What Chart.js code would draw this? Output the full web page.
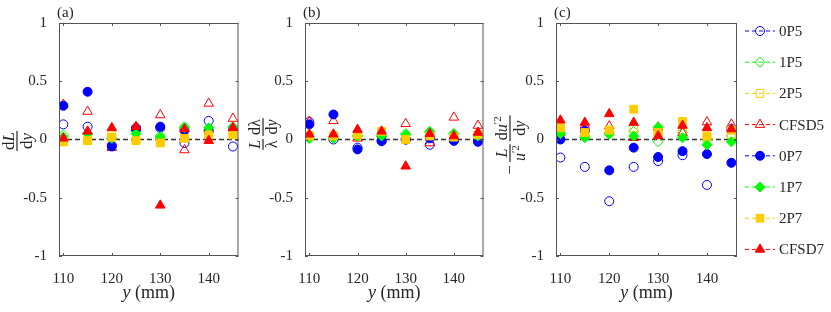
<!DOCTYPE html>
<html>
<head>
<meta charset="utf-8">
<script src="https://cdn.jsdelivr.net/npm/chart.js@4"></script>
<style>
  body { margin: 0; background: #fff; }
  #wrap { position: relative; width: 831px; height: 312px; }
  canvas { position: absolute; top: 0; }
</style>
</head>
<body>
<div id="wrap">
  <canvas id="ca" width="245" height="312" style="left:0px"></canvas>
  <canvas id="cb" width="245" height="312" style="left:245px"></canvas>
  <canvas id="cc" width="341" height="312" style="left:490px"></canvas>
</div>
<script>
// wall-normal positions (mm) and tick labels
const yPos = [110, 115, 120, 125, 130, 135, 140, 145];
const xTicks = [110, 120, 130, 140];
const yTicks = [-1, -0.5, 0, 0.5, 1];
const names = ['0P5', '1P5', '2P5', 'CFSD5', '0P7', '1P7', '2P7', 'CFSD7'];

// (a) dL/dy
const a0P5   = [0.13, 0.11, -0.05, 0.10, 0.10, -0.03, 0.16, -0.06];
const a1P5   = [0.04, 0.05, 0.01, 0.07, 0.03, 0.11, 0.08, 0.11];
const a2P5   = [-0.02, -0.01, 0.04, -0.01, -0.02, 0.02, 0.05, 0.05];
const aCFSD5 = [0.30, 0.24, -0.07, 0.10, 0.21, -0.09, 0.31, 0.18];
const a0P7   = [0.29, 0.41, -0.06, 0.09, 0.11, 0.08, 0.07, 0.09];
const a1P7   = [0.02, 0.05, 0.01, 0.05, 0.02, 0.10, 0.10, 0.10];
const a2P7   = [-0.02, -0.01, 0.02, -0.01, -0.03, 0.01, 0.04, 0.04];
const aCFSD7 = [0.01, 0.07, 0.10, 0.11, -0.565, 0.09, -0.01, 0.10];

// (b) (L/lambda) dlambda/dy
const b0P5   = [0.15, 0.00, -0.07, -0.015, 0.00, -0.045, -0.01, -0.01];
const b1P5   = [0.01, 0.01, 0.03, 0.03, 0.05, 0.06, 0.05, 0.03];
const b2P5   = [0.03, 0.03, 0.04, 0.06, 0.00, 0.03, 0.02, 0.04];
const bCFSD5 = [0.155, 0.16, 0.01, 0.045, 0.135, -0.03, 0.19, 0.12];
const b0P7   = [0.13, 0.215, -0.085, -0.01, 0.00, 0.01, -0.01, -0.02];
const b1P7   = [0.01, 0.01, 0.03, 0.03, 0.04, 0.07, 0.05, 0.03];
const b2P7   = [0.03, 0.03, 0.04, 0.07, 0.00, 0.03, 0.02, 0.04];
const bCFSD7 = [0.045, 0.045, 0.085, 0.07, -0.23, 0.05, 0.03, 0.06];

// (c) -(L/u'^2) du'^2/dy
const c0P5   = [-0.155, -0.235, -0.53, -0.235, -0.185, -0.135, -0.39, 0.09];
const c1P5   = [0.06, 0.03, 0.06, 0.07, -0.02, 0.06, 0.00, 0.03];
const c2P5   = [0.09, 0.06, 0.08, 0.10, 0.06, 0.07, 0.02, 0.04];
const cCFSD5 = [0.06, 0.12, 0.115, 0.015, 0.105, 0.055, 0.15, 0.13];
const c0P7   = [0.00, 0.075, -0.265, -0.07, -0.15, -0.10, -0.125, -0.20];
const c1P7   = [0.05, 0.015, 0.045, 0.03, 0.105, 0.015, -0.045, -0.02];
const c2P7   = [0.10, 0.06, 0.08, 0.26, 0.06, 0.155, 0.03, 0.08];
const cCFSD7 = [0.165, 0.145, 0.22, 0.145, 0.03, 0.12, 0.10, 0.09];

const panelA = [a0P5, a1P5, a2P5, aCFSD5, a0P7, a1P7, a2P7, aCFSD7];
const panelB = [b0P5, b1P5, b2P5, bCFSD5, b0P7, b1P7, b2P7, bCFSD7];
const panelC = [c0P5, c1P5, c2P5, cCFSD5, c0P7, c1P7, c2P7, cCFSD7];

// marker styles, MATLAB-like
const BLUE = '#0000ff', GREEN = '#00ff00', YELLOW = '#ffcc00', RED = '#ff0000';
const styles = [
  { c: BLUE,   shape: 'circle',   fill: false, r: 4.5 },
  { c: GREEN,  shape: 'rectRot',  fill: false, r: 5 },
  { c: YELLOW, shape: 'rect',     fill: false, r: 5.5 },
  { c: RED,    shape: 'triangle', fill: false, r: 5.5 },
  { c: BLUE,   shape: 'circle',   fill: true,  r: 4.5 },
  { c: GREEN,  shape: 'rectRot',  fill: true,  r: 5 },
  { c: YELLOW, shape: 'rect',     fill: true,  r: 5.5 },
  { c: RED,    shape: 'triangle', fill: true,  r: 5.5 }
];

const SERIF = '"Liberation Serif", "DejaVu Serif", serif';
const AXIS = '#262626';
const font = (size, it) => (it ? 'italic ' : '') + size + 'px ' + SERIF;

function runsWidth(ctx, runs) {
  let w = 0;
  for (const r of runs) { ctx.font = r.font; w += ctx.measureText(r.t).width; }
  return w;
}
function drawRuns(ctx, runs, x, y) {
  for (const r of runs) {
    ctx.font = r.font;
    ctx.fillText(r.t, x, y + (r.dy || 0));
    x += ctx.measureText(r.t).width;
  }
}
function itemWidth(ctx, it) {
  if (it.runs) return runsWidth(ctx, it.runs);
  return Math.max(runsWidth(ctx, it.num), runsWidth(ctx, it.den)) + 2;
}
// rotated math title: items laid along the rotated baseline, bar at screen x = bx
function drawRotTitle(ctx, bx, cy, items, gap, denBase) {
  ctx.save();
  ctx.translate(bx, cy);
  ctx.rotate(-Math.PI / 2);
  ctx.fillStyle = AXIS;
  ctx.textAlign = 'left';
  ctx.textBaseline = 'alphabetic';
  const ws = items.map(it => itemWidth(ctx, it));
  let x = -(ws.reduce((s, w) => s + w, 0) + gap * (items.length - 1)) / 2;
  items.forEach((it, i) => {
    const w = ws[i];
    if (it.runs) {
      drawRuns(ctx, it.runs, x, it.base || 0);
    } else {
      const wn = runsWidth(ctx, it.num), wd = runsWidth(ctx, it.den);
      drawRuns(ctx, it.num, x + (w - wn) / 2, -3);
      drawRuns(ctx, it.den, x + (w - wd) / 2, denBase);
      ctx.fillRect(x, -0.6, w, 1.2);
    }
    x += w + gap;
  });
  ctx.restore();
}

function drawMarker(ctx, s, x, y) {
  ctx.beginPath();
  const r = s.r;
  if (s.shape === 'circle') {
    ctx.arc(x, y, r, 0, Math.PI * 2);
  } else if (s.shape === 'rectRot') {
    ctx.moveTo(x, y - r); ctx.lineTo(x + r, y); ctx.lineTo(x, y + r); ctx.lineTo(x - r, y);
  } else if (s.shape === 'rect') {
    const h = r * Math.SQRT1_2;
    ctx.rect(x - h, y - h, 2 * h, 2 * h);
  } else {
    ctx.moveTo(x, y - r);
    ctx.lineTo(x + r * Math.sin(Math.PI * 2 / 3), y - r * Math.cos(Math.PI * 2 / 3));
    ctx.lineTo(x - r * Math.sin(Math.PI * 2 / 3), y - r * Math.cos(Math.PI * 2 / 3));
  }
  ctx.closePath();
  if (s.fill) { ctx.fillStyle = s.c; ctx.fill(); }
  ctx.strokeStyle = s.c;
  ctx.lineWidth = 1;
  ctx.stroke();
}

const titles = {
  a: ctx => drawRotTitle(ctx, 17, 141, [
    { num: [{ t: 'd', font: font(17) }, { t: 'L', font: font(17, true) }],
      den: [{ t: 'd', font: font(17) }, { t: 'y', font: font(17, true) }] }
  ], 0, 15),
  b: ctx => drawRotTitle(ctx, 263, 134, [
    { num: [{ t: 'L', font: font(16, true) }], den: [{ t: 'λ', font: font(16) }] },
    { num: [{ t: 'dλ', font: font(16) }],
      den: [{ t: 'd', font: font(16) }, { t: 'y', font: font(16, true) }] }
  ], 3, 14),
  c: ctx => drawRotTitle(ctx, 510, 145, [
    { runs: [{ t: '−', font: font(17) }], base: 5 },
    { num: [{ t: 'L', font: font(16, true) }],
      den: [{ t: 'u', font: font(16, true) }, { t: '′2', font: font(11), dy: -6 }] },
    { num: [{ t: 'd', font: font(16) }, { t: 'u', font: font(16, true) }, { t: '′2', font: font(11), dy: -6 }],
      den: [{ t: 'd', font: font(16) }, { t: 'y', font: font(16, true) }] }
  ], 3, 15)
};

function decoPlugin(letter, offsetX, withLegend) {
  return {
    id: 'deco' + letter,
    beforeDatasetsDraw(chart) {
      const { ctx, chartArea: a, scales } = chart;
      const y0 = scales.y.getPixelForValue(0);
      ctx.save();
      ctx.strokeStyle = '#333';
      ctx.lineWidth = 1.4;
      ctx.setLineDash([5, 3]);
      ctx.beginPath();
      ctx.moveTo(a.left, y0); ctx.lineTo(a.right, y0);
      ctx.stroke();
      ctx.restore();
    },
    afterDraw(chart) {
      const { ctx, chartArea: a, scales } = chart;
      ctx.save();
      // box and inward ticks
      ctx.strokeStyle = '#555';
      ctx.lineWidth = 1;
      ctx.strokeRect(a.left + 0.5, a.top + 0.5, a.right - a.left - 1, a.bottom - a.top - 1);
      ctx.beginPath();
      xTicks.forEach(v => {
        const px = Math.round(scales.x.getPixelForValue(v)) + 0.5;
        ctx.moveTo(px, a.bottom); ctx.lineTo(px, a.bottom - 3);
        ctx.moveTo(px, a.top); ctx.lineTo(px, a.top + 3);
      });
      yTicks.forEach(v => {
        const py = Math.round(scales.y.getPixelForValue(v)) + 0.5;
        ctx.moveTo(a.left, py); ctx.lineTo(a.left + 3, py);
        ctx.moveTo(a.right, py); ctx.lineTo(a.right - 3, py);
      });
      ctx.stroke();

      // panel letter
      ctx.fillStyle = AXIS;
      ctx.textAlign = 'left';
      ctx.textBaseline = 'alphabetic';
      ctx.font = font(15);
      ctx.fillText('(' + letter + ')', a.left - 2, 17);

      // x title: y (mm)
      const runs = [{ t: 'y', font: font(18, true) }, { t: ' (mm)', font: font(18) }];
      const w = runsWidth(ctx, runs);
      drawRuns(ctx, runs, (a.left + a.right) / 2 - w / 2, 298);

      // y title (given in page coordinates)
      ctx.translate(-offsetX, 0);
      titles[letter](ctx);
      ctx.translate(offsetX, 0);

      if (withLegend) {
        const lx = a.right + 8;
        chart.data.datasets.forEach((ds, i) => {
          const s = styles[i];
          const ly = 31 + i * 31.2;
          ctx.strokeStyle = s.c;
          ctx.lineWidth = 1;
          ctx.setLineDash([4, 3]);
          ctx.beginPath();
          ctx.moveTo(lx, ly); ctx.lineTo(lx + 30, ly);
          ctx.stroke();
          ctx.setLineDash([]);
          drawMarker(ctx, s, lx + 15, ly);
          ctx.fillStyle = AXIS;
          ctx.font = font(15);
          ctx.textBaseline = 'middle';
          ctx.fillText(ds.label, lx + 34, ly + 1);
        });
      }
      ctx.restore();
    }
  };
}

function makePanel(id, letter, series, offsetX, plotLeft, plotRight, withLegend) {
  const canvas = document.getElementById(id);
  const datasets = series.map((vals, i) => {
    const s = styles[i];
    return {
      label: names[i],
      data: yPos.map((x, j) => ({ x: x, y: vals[j] })),
      showLine: false,
      pointStyle: s.shape,
      pointRadius: s.r,
      pointHoverRadius: s.r,
      pointBorderWidth: 1,
      pointBorderColor: s.c,
      pointBackgroundColor: s.fill ? s.c : 'rgba(0,0,0,0)',
      order: series.length - i
    };
  });
  return new Chart(canvas, {
    type: 'scatter',
    data: { datasets: datasets },
    options: {
      responsive: false,
      animation: false,
      events: [],
      layout: { padding: { left: 0, right: canvas.width - plotRight, top: 23, bottom: 0 } },
      plugins: { legend: { display: false }, tooltip: { enabled: false } },
      scales: {
        x: {
          type: 'linear', min: 109.1, max: 146.15,
          afterBuildTicks: s => { s.ticks = xTicks.map(v => ({ value: v })); },
          afterFit: s => { s.height = 56; },
          grid: { display: false }, border: { display: false },
          ticks: { font: { family: SERIF, size: 15 }, color: AXIS, padding: 6, maxRotation: 0, autoSkip: false }
        },
        y: {
          type: 'linear', min: -1, max: 1,
          afterBuildTicks: s => { s.ticks = yTicks.map(v => ({ value: v })); },
          afterFit: s => { s.width = plotLeft; },
          grid: { display: false }, border: { display: false },
          ticks: { font: { family: SERIF, size: 15 }, color: AXIS, padding: 4, callback: v => String(v) }
        }
      }
    },
    plugins: [decoPlugin(letter, offsetX, withLegend)]
  });
}

makePanel('ca', 'a', panelA, 0, 59, 239, false);
makePanel('cb', 'b', panelB, 245, 60, 241, false);
makePanel('cc', 'c', panelC, 490, 66, 247, true);
</script>
</body>
</html>
